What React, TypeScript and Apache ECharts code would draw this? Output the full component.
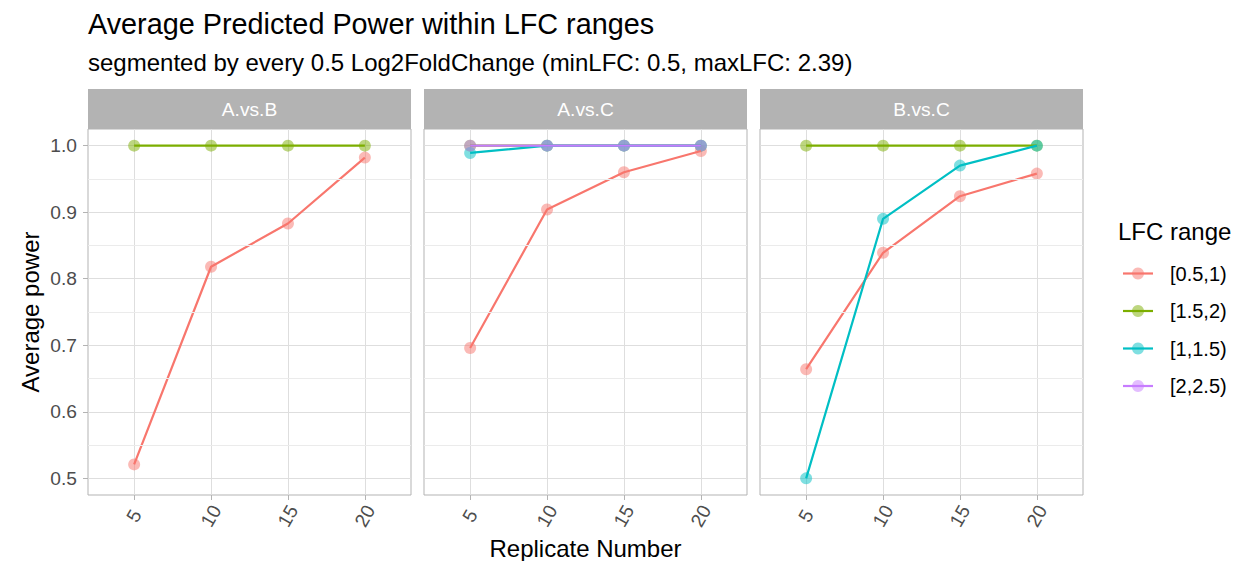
import React, { useEffect, useRef } from 'react';
import * as echarts from 'echarts';

// ---------- data ----------
const categories = ['5', '10', '15', '20'];
const facets = ['A.vs.B', 'A.vs.C', 'B.vs.C'];
const lfcRanges = ['[0.5,1)', '[1.5,2)', '[1,1.5)', '[2,2.5)'];
const rangeColors = ['#F8766D', '#7CAE00', '#00BFC4', '#C77CFF'];
const yTicks = [0.5, 0.6, 0.7, 0.8, 0.9, 1.0];
const yMinorTicks = [0.55, 0.65, 0.75, 0.85, 0.95];

const abPower05to1 = [0.521, 0.818, 0.883, 0.982];
const abPower15to2 = [1.0, 1.0, 1.0, 1.0];

const acPower05to1 = [0.696, 0.904, 0.96, 0.992];
const acPower15to2 = [1.0, 1.0, 1.0, 1.0];
const acPower1to15 = [0.989, 1.0, 1.0, 1.0];
const acPower2to25 = [1.0, 1.0, 1.0, 1.0];

const bcPower05to1 = [0.664, 0.839, 0.924, 0.958];
const bcPower15to2 = [1.0, 1.0, 1.0, 1.0];
const bcPower1to15 = [0.5, 0.89, 0.97, 1.0];

const facetData: { range: number; values: number[] }[][] = [
  [
    { range: 0, values: abPower05to1 },
    { range: 1, values: abPower15to2 },
  ],
  [
    { range: 0, values: acPower05to1 },
    { range: 1, values: acPower15to2 },
    { range: 2, values: acPower1to15 },
    { range: 3, values: acPower2to25 },
  ],
  [
    { range: 0, values: bcPower05to1 },
    { range: 1, values: bcPower15to2 },
    { range: 2, values: bcPower1to15 },
  ],
];

// ---------- layout ----------
const FONT = "'Liberation Sans', Arial, Helvetica, sans-serif";
const panelLeft = [88, 424, 760];
const panelWidth = 323;
const panelTop = 129;
const panelHeight = 366;
const stripHeight = 40;
const legendY = [273.5, 311, 348.5, 386];

export default function App() {
  const ref = useRef<HTMLDivElement>(null);

  useEffect(() => {
    document.body.style.margin = '0';
    const chart = echarts.init(ref.current!, undefined, { renderer: 'svg' });

    const grids = panelLeft.map((l) => ({
      left: l,
      top: panelTop,
      width: panelWidth,
      height: panelHeight,
      show: true,
      borderColor: '#b3b3b3',
      borderWidth: 1,
      backgroundColor: '#ffffff',
      containLabel: false,
    }));

    const xTickVals = categories.map((_, i) => i + 1);

    const xAxes = panelLeft.map((_, i) => ({
      type: 'value',
      gridIndex: i,
      min: 0.4,
      max: 4.6,
      axisLine: { show: false },
      axisTick: {
        show: true,
        customValues: xTickVals,
        length: 5,
        lineStyle: { color: '#b3b3b3', width: 1 },
      },
      axisLabel: {
        show: true,
        customValues: xTickVals,
        formatter: (v: number) => categories[Math.round(v) - 1] ?? '',
        rotate: 60,
        align: 'center',
        verticalAlign: 'middle',
        margin: 21,
        color: '#4d4d4d',
        fontSize: 19.2,
        fontFamily: FONT,
      },
      splitLine: { show: true, lineStyle: { color: '#dedede', width: 1 } },
    }));

    const yAxes = panelLeft.map((_, i) => ({
      type: 'value',
      gridIndex: i,
      min: 0.475,
      max: 1.025,
      axisLine: { show: false },
      axisTick: {
        show: i === 0,
        customValues: yTicks,
        length: 5,
        lineStyle: { color: '#b3b3b3', width: 1 },
      },
      axisLabel: {
        show: i === 0,
        customValues: yTicks,
        formatter: (v: number) => v.toFixed(1),
        margin: 11,
        color: '#4d4d4d',
        fontSize: 19.2,
        fontFamily: FONT,
      },
      splitLine: { show: true, lineStyle: { color: '#dedede', width: 1 } },
    }));

    const series: any[] = [];
    facetData.forEach((groups, p) => {
      // minor grid lines
      series.push({
        type: 'line',
        xAxisIndex: p,
        yAxisIndex: p,
        data: [],
        z: 1,
        silent: true,
        markLine: {
          silent: true,
          symbol: ['none', 'none'],
          label: { show: false },
          lineStyle: { color: '#ebebeb', width: 1, type: 'solid' },
          emphasis: { disabled: true },
          data: yMinorTicks.map((v) => ({ yAxis: v })),
        },
      });
      groups.forEach((g) => {
        series.push({
          type: 'scatter',
          name: lfcRanges[g.range],
          xAxisIndex: p,
          yAxisIndex: p,
          z: 2,
          symbol: 'circle',
          symbolSize: 12,
          itemStyle: { color: rangeColors[g.range], opacity: 0.5 },
          data: g.values.map((v, j) => [j + 1, v]),
        });
      });
      groups.forEach((g) => {
        series.push({
          type: 'line',
          name: lfcRanges[g.range],
          xAxisIndex: p,
          yAxisIndex: p,
          z: 3 + g.range,
          showSymbol: false,
          symbol: 'none',
          lineStyle: { color: rangeColors[g.range], width: 2.2 },
          itemStyle: { color: rangeColors[g.range] },
          data: g.values.map((v, j) => [j + 1, v]),
        });
      });
    });

    const graphics: any[] = [];
    graphics.push({
      type: 'text',
      x: 88,
      y: 24,
      style: {
        text: 'Average Predicted Power within LFC ranges',
        font: `28.8px ${FONT}`,
        fill: '#000',
        textAlign: 'left',
        textVerticalAlign: 'middle',
      },
    });
    graphics.push({
      type: 'text',
      x: 88,
      y: 62,
      style: {
        text: 'segmented by every 0.5 Log2FoldChange (minLFC: 0.5, maxLFC: 2.39)',
        font: `24px ${FONT}`,
        fill: '#000',
        textAlign: 'left',
        textVerticalAlign: 'middle',
      },
    });
    facets.forEach((f, i) => {
      graphics.push({
        type: 'rect',
        shape: { x: panelLeft[i], y: panelTop - stripHeight, width: panelWidth, height: stripHeight },
        style: { fill: '#b3b3b3' },
      });
      graphics.push({
        type: 'text',
        x: panelLeft[i] + panelWidth / 2,
        y: panelTop - stripHeight / 2,
        style: {
          text: f,
          font: `19.2px ${FONT}`,
          fill: '#ffffff',
          textAlign: 'center',
          textVerticalAlign: 'middle',
        },
      });
    });
    graphics.push({
      type: 'text',
      x: (panelLeft[0] + panelLeft[2] + panelWidth) / 2,
      y: 548,
      style: {
        text: 'Replicate Number',
        font: `24px ${FONT}`,
        fill: '#000',
        textAlign: 'center',
        textVerticalAlign: 'middle',
      },
    });
    graphics.push({
      type: 'text',
      x: 30,
      y: panelTop + panelHeight / 2,
      rotation: Math.PI / 2,
      style: {
        text: 'Average power',
        font: `24px ${FONT}`,
        fill: '#000',
        textAlign: 'center',
        textVerticalAlign: 'middle',
      },
    });
    // legend
    graphics.push({
      type: 'text',
      x: 1118,
      y: 231,
      style: {
        text: 'LFC range',
        font: `24px ${FONT}`,
        fill: '#000',
        textAlign: 'left',
        textVerticalAlign: 'middle',
      },
    });
    lfcRanges.forEach((r, i) => {
      const y = legendY[i];
      graphics.push({
        type: 'circle',
        shape: { cx: 1138, cy: y, r: 6 },
        style: { fill: rangeColors[i], opacity: 0.5 },
      });
      graphics.push({
        type: 'line',
        shape: { x1: 1123, y1: y, x2: 1153, y2: y },
        style: { stroke: rangeColors[i], lineWidth: 2.2 },
      });
      graphics.push({
        type: 'text',
        x: 1170,
        y,
        style: {
          text: r,
          font: `20px ${FONT}`,
          fill: '#000',
          textAlign: 'left',
          textVerticalAlign: 'middle',
        },
      });
    });

    chart.setOption({
      animation: false,
      backgroundColor: '#ffffff',
      grid: grids,
      xAxis: xAxes,
      yAxis: yAxes,
      series,
      graphic: graphics,
    });

    return () => chart.dispose();
  }, []);

  return (
    <div
      ref={ref}
      style={{ position: 'absolute', left: 0, top: 0, width: 1234, height: 561 }}
    />
  );
}
